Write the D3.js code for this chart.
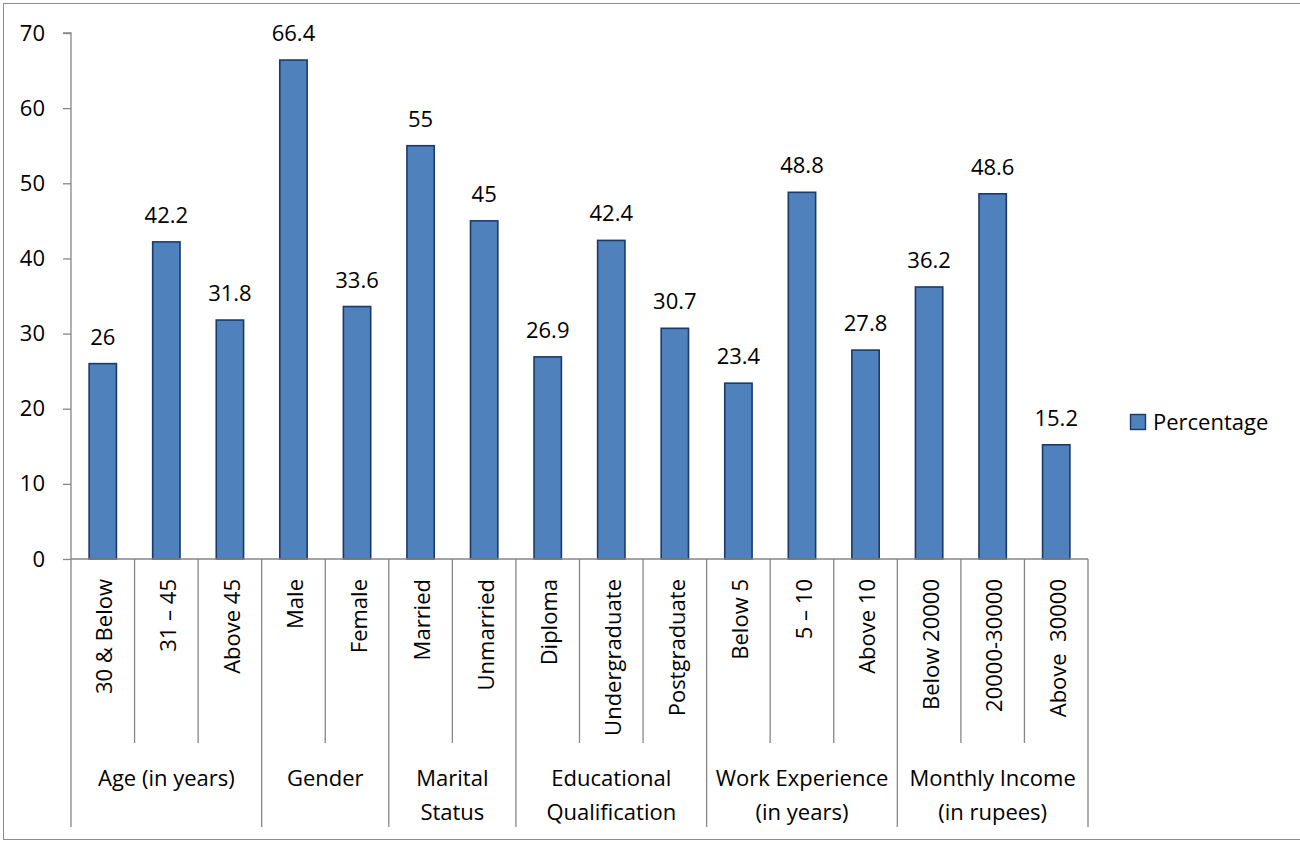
<!DOCTYPE html>
<html>
<head>
<meta charset="utf-8">
<script src="https://cdn.jsdelivr.net/npm/d3@7"></script>
<style>
  html, body { margin: 0; padding: 0; background: #fff; }
  svg text { font-family: "Open Sans", "Noto Sans", sans-serif; fill: #000; white-space: pre; }
</style>
</head>
<body>
<svg id="chart" width="1300" height="841"></svg>
<script>
// Respondent profile: share of respondents (%) in each category
const groups = [
  { name: ["Age (in years)"], size: 3 },
  { name: ["Gender"], size: 2 },
  { name: ["Marital", "Status"], size: 2 },
  { name: ["Educational", "Qualification"], size: 3 },
  { name: ["Work Experience", "(in years)"], size: 3 },
  { name: ["Monthly Income", "(in rupees)"], size: 3 }
];
const categories = [
  "30 & Below", "31 \u2013 45", "Above 45",
  "Male", "Female",
  "Married", "Unmarried",
  "Diploma", "Undergraduate", "Postgraduate",
  "Below 5", "5 \u2013 10", "Above 10",
  "Below 20000", "20000-30000", "Above  30000"
];
const percentage = [26, 42.2, 31.8, 66.4, 33.6, 55, 45, 26.9, 42.4, 30.7, 23.4, 48.8, 27.8, 36.2, 48.6, 15.2];
const yTicks = [0, 10, 20, 30, 40, 50, 60, 70];
const seriesName = "Percentage";

const svg = d3.select("#chart");
const axisColor = "#868686";
const fontSize = 22;

// outer chart frame (right edge runs past the canvas)
svg.append("rect")
  .attr("x", 3.5).attr("y", 3.5)
  .attr("width", 1300).attr("height", 836)
  .attr("fill", "none").attr("stroke", "#8c8c8c").attr("stroke-width", 1);

const plot = { left: 71, right: 1088, top: 33, bottom: 559 };

const x = d3.scaleBand()
  .domain(categories)
  .range([plot.left, plot.right])
  .paddingInner(0.57)
  .paddingOuter(0.285);

const y = d3.scaleLinear()
  .domain([0, 70])
  .range([plot.bottom, plot.top]);

// y axis
const yAxis = svg.append("g")
  .attr("transform", `translate(${plot.left},0)`)
  .call(d3.axisLeft(y).tickValues(yTicks).tickSize(8).tickPadding(18));
yAxis.select(".domain").attr("stroke", axisColor).attr("stroke-width", 1.3).attr("d", `M-8,${y(70)}H0V${y(0)}`);
yAxis.selectAll(".tick line").attr("stroke", axisColor).attr("stroke-width", 1.3);
yAxis.selectAll(".tick text").attr("font-size", fontSize).attr("fill", "#000")
  .style("font-family", "'Open Sans', 'Noto Sans', sans-serif");

// bars
svg.append("g").selectAll("rect")
  .data(categories)
  .join("rect")
  .attr("x", d => x(d))
  .attr("y", (d, i) => y(percentage[i]))
  .attr("width", x.bandwidth())
  .attr("height", (d, i) => y(0) - y(percentage[i]))
  .attr("fill", "#4F81BD")
  .attr("stroke", "#1B3A6B")
  .attr("stroke-width", 1.6);

// value labels
svg.append("g").selectAll("text")
  .data(categories)
  .join("text")
  .attr("x", d => x(d) + x.bandwidth() / 2)
  .attr("y", (d, i) => y(percentage[i]) - 19)
  .attr("text-anchor", "middle")
  .attr("font-size", fontSize)
  .text((d, i) => percentage[i]);

// x axis baseline
const step = x.step();
const boundary = i => plot.left + i * step; // category boundary positions
svg.append("line")
  .attr("x1", plot.left).attr("x2", plot.right)
  .attr("y1", plot.bottom).attr("y2", plot.bottom)
  .attr("stroke", axisColor).attr("stroke-width", 1.3);

// separators: short ones between categories, long ones between groups
const groupStarts = [];
let acc = 0;
groups.forEach(g => { groupStarts.push(acc); acc += g.size; });
const sepG = svg.append("g").attr("stroke", axisColor).attr("stroke-width", 1.3);
for (let i = 0; i <= categories.length; i++) {
  const isGroup = groupStarts.includes(i) || i === categories.length;
  sepG.append("line")
    .attr("x1", boundary(i)).attr("x2", boundary(i))
    .attr("y1", plot.bottom).attr("y2", isGroup ? 827 : 743);
}

// rotated category labels
svg.append("g").selectAll("text")
  .data(categories)
  .join("text")
  .attr("transform", d => `translate(${x(d) + x.bandwidth() / 2 + 2},579) rotate(-90)`)
  .attr("text-anchor", "end")
  .attr("dy", "0.35em")
  .attr("font-size", fontSize)
  .text(d => d);

// group labels
groups.forEach((g, gi) => {
  const cx = (boundary(groupStarts[gi]) + boundary(groupStarts[gi] + g.size)) / 2;
  g.name.forEach((line, li) => {
    svg.append("text")
      .attr("x", cx)
      .attr("y", 778 + li * 34)
      .attr("dy", "0.35em")
      .attr("text-anchor", "middle")
      .attr("font-size", fontSize)
      .text(line);
  });
});

// legend
const legend = svg.append("g").attr("transform", "translate(1130,414)");
legend.append("rect")
  .attr("x", 0.5).attr("y", 0.5).attr("width", 15).attr("height", 15)
  .attr("fill", "#4F81BD").attr("stroke", "#1B3A6B").attr("stroke-width", 1.4);
legend.append("text")
  .attr("x", 23).attr("y", 8).attr("dy", "0.35em")
  .attr("font-size", fontSize)
  .text(seriesName);
</script>
</body>
</html>
